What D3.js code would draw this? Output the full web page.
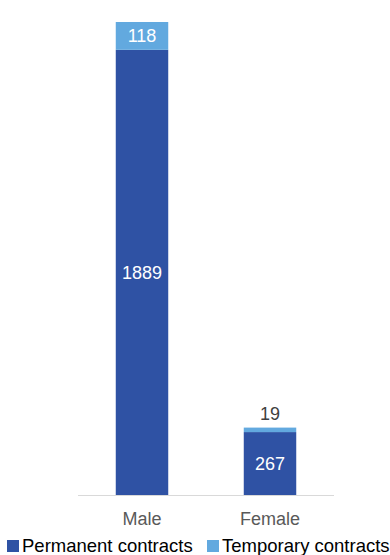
<!DOCTYPE html>
<html>
<head>
<meta charset="utf-8">
<script src="https://cdn.jsdelivr.net/npm/d3@7"></script>
<style>
  html, body { margin: 0; padding: 0; background: #ffffff; }
  svg { display: block; font-family: "Liberation Sans", Arial, sans-serif; }
</style>
</head>
<body>
<svg id="chart" width="390" height="555"></svg>
<script>
// Employees by gender and contract type
const categories = ["Male", "Female"];
const seriesNames = ["Permanent contracts", "Temporary contracts"];
const permanent = [1889, 267];
const temporary = [118, 19];
const seriesColors = ["#2F52A4", "#62A9DF"];

const rows = categories.map((c, i) => ({
  category: c,
  "Permanent contracts": permanent[i],
  "Temporary contracts": temporary[i]
}));

const svg = d3.select("#chart");
const baseY = 495, topY = 22, left = 78, right = 334;

const x = d3.scaleBand()
  .domain(categories)
  .range([left, right])
  .paddingInner(0.59)
  .paddingOuter(0.295);

const totals = rows.map(r => r["Permanent contracts"] + r["Temporary contracts"]);
const y = d3.scaleLinear()
  .domain([0, d3.max(totals)])
  .range([baseY, topY]);

const stacked = d3.stack().keys(seriesNames)(rows);
const color = d3.scaleOrdinal().domain(seriesNames).range(seriesColors);

// stacked bars
const layers = svg.append("g").selectAll("g")
  .data(stacked)
  .join("g")
  .attr("fill", d => color(d.key));

layers.selectAll("rect")
  .data(d => d)
  .join("rect")
  .attr("x", d => x(d.data.category))
  .attr("width", x.bandwidth())
  .attr("y", d => y(d[1]))
  .attr("height", d => y(d[0]) - y(d[1]));

// category axis
const axis = svg.append("g")
  .attr("transform", `translate(0,${baseY})`)
  .call(d3.axisBottom(x).tickSize(0).tickPadding(17));
axis.select(".domain")
  .attr("stroke", "#D9D9D9")
  .attr("stroke-width", 1.2)
  .attr("d", `M${left},0.5H${right}`);
axis.selectAll("text")
  .attr("font-size", 18)
  .attr("fill", "#595959")
  .attr("font-family", "Liberation Sans, Arial, sans-serif");

// value labels: inside the segment when it is tall enough, otherwise above the bar
const labelG = svg.append("g")
  .attr("font-size", 18)
  .attr("text-anchor", "middle");

stacked.forEach(layer => {
  layer.forEach(d => {
    const value = d[1] - d[0];
    const h = y(d[0]) - y(d[1]);
    const cx = x(d.data.category) + x.bandwidth() / 2;
    const inside = h >= 22;
    labelG.append("text")
      .attr("x", cx)
      .attr("y", inside ? (y(d[0]) + y(d[1])) / 2 : y(d[1]) - 8)
      .attr("dy", inside ? "0.35em" : "0")
      .attr("fill", inside ? "#ffffff" : "#404040")
      .text(value);
  });
});

// legend
const legendItems = [
  { name: seriesNames[0], x: 7 },
  { name: seriesNames[1], x: 207 }
];
const legend = svg.append("g");
legendItems.forEach(item => {
  legend.append("rect")
    .attr("x", item.x)
    .attr("y", 540)
    .attr("width", 12)
    .attr("height", 12)
    .attr("fill", color(item.name));
  legend.append("text")
    .attr("x", item.x + 15)
    .attr("y", 552)
    .attr("font-size", 18.5)
    .attr("fill", "#000000")
    .text(item.name);
});
</script>
</body>
</html>
